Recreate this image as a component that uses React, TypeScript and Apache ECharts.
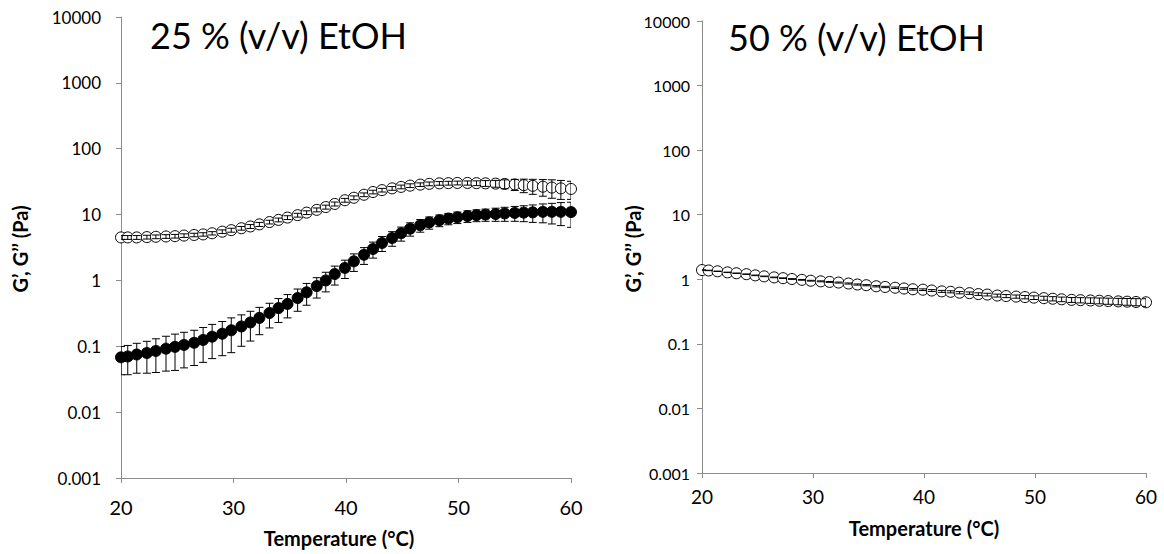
import React, { useEffect, useRef } from "react";
import * as echarts from "echarts";

const temps = [20.0, 20.6, 21.4, 22.3, 23.1, 24.0, 24.8, 25.6, 26.5, 27.3, 28.1, 29.0, 29.8, 30.7, 31.5, 32.3, 33.2, 34.0, 34.8, 35.7, 36.5, 37.4, 38.2, 39.0, 39.9, 40.7, 41.6, 42.4, 43.2, 44.1, 44.9, 45.7, 46.6, 47.4, 48.3, 49.1, 49.9, 50.8, 51.6, 52.4, 53.3, 54.1, 55.0, 55.8, 56.6, 57.5, 58.3, 59.1, 60.0];

// 25 % (v/v) EtOH
const gPrime25 = [0.068, 0.070, 0.075, 0.079, 0.085, 0.092, 0.098, 0.105, 0.113, 0.125, 0.14, 0.155, 0.175, 0.20, 0.23, 0.27, 0.32, 0.38, 0.44, 0.54, 0.66, 0.82, 1.0, 1.25, 1.55, 1.95, 2.45, 3.0, 3.7, 4.4, 5.2, 6.1, 6.9, 7.6, 8.2, 8.7, 9.1, 9.5, 9.8, 10.0, 10.2, 10.4, 10.6, 10.7, 10.8, 11.0, 11.0, 11.0, 10.9];
const gPrime25Err = [0.031, 0.033, 0.036, 0.040, 0.045, 0.050, 0.055, 0.058, 0.062, 0.068, 0.075, 0.083, 0.095, 0.10, 0.11, 0.12, 0.13, 0.15, 0.17, 0.2, 0.24, 0.28, 0.33, 0.4, 0.48, 0.58, 0.7, 0.82, 0.95, 1.1, 1.25, 1.4, 1.5, 1.6, 1.65, 1.7, 1.8, 1.9, 2.0, 2.1, 2.3, 2.5, 2.7, 2.9, 3.2, 3.5, 3.8, 4.2, 4.5];
const gDouble25 = [4.5, 4.5, 4.5, 4.55, 4.6, 4.65, 4.7, 4.8, 4.9, 5.0, 5.2, 5.5, 5.8, 6.2, 6.6, 7.1, 7.7, 8.3, 9.0, 9.8, 10.7, 11.8, 13.0, 14.5, 16.5, 18.0, 20.0, 22.0, 23.5, 25.0, 26.3, 27.5, 28.5, 29.3, 29.8, 30.0, 30.2, 30.2, 30.0, 29.8, 29.5, 29.2, 28.7, 28.0, 27.3, 26.5, 25.7, 25.0, 24.5];
const gDouble25Err = [0.3, 0.3, 0.3, 0.3, 0.3, 0.3, 0.3, 0.3, 0.3, 0.3, 0.3, 0.35, 0.4, 0.4, 0.45, 0.5, 0.5, 0.55, 0.6, 0.65, 0.7, 0.8, 0.9, 1.0, 1.1, 1.2, 1.3, 1.4, 1.5, 1.6, 1.7, 1.8, 1.8, 1.9, 1.9, 2.0, 2.0, 2.2, 2.5, 3.0, 3.5, 4.5, 5.5, 6.5, 7.0, 7.5, 8.0, 8.0, 7.5];

// 50 % (v/v) EtOH
const gDouble50 = [1.39, 1.37, 1.33, 1.28, 1.24, 1.20, 1.15, 1.11, 1.07, 1.04, 1.01, 0.98, 0.95, 0.93, 0.91, 0.89, 0.86, 0.83, 0.81, 0.78, 0.76, 0.74, 0.72, 0.70, 0.69, 0.67, 0.65, 0.64, 0.62, 0.61, 0.59, 0.58, 0.56, 0.55, 0.54, 0.53, 0.52, 0.51, 0.50, 0.49, 0.48, 0.475, 0.47, 0.465, 0.46, 0.455, 0.45, 0.445, 0.44];
const gDouble50Err = [0.01, 0.01, 0.01, 0.01, 0.01, 0.01, 0.012, 0.012, 0.012, 0.012, 0.014, 0.014, 0.014, 0.015, 0.015, 0.016, 0.016, 0.017, 0.017, 0.018, 0.018, 0.019, 0.02, 0.02, 0.021, 0.022, 0.023, 0.024, 0.025, 0.026, 0.027, 0.028, 0.029, 0.03, 0.031, 0.032, 0.034, 0.036, 0.038, 0.04, 0.042, 0.044, 0.046, 0.048, 0.05, 0.052, 0.054, 0.056, 0.06];

const xTicks = { min: 20, max: 60, interval: 10 };
const yRange = { min: 0.001, max: 10000 };
const panelTitles = ["25 % (v/v) EtOH", "50 % (v/v) EtOH"];
const yTitle = "G’, G’’ (Pa)";
const xTitle = "Temperature (°C)";

const FONT = "Lato, 'Open Sans', sans-serif";
const AXIS_COLOR = "#8c8c8c";

const fmt = (v: number) => String(Number(Number(v).toPrecision(6)));

const pairs = (ys: number[]) => temps.map((t, i) => [t, ys[i]]);
const triples = (ys: number[], es: number[]) => temps.map((t, i) => [t, ys[i], es[i]]);

const errorBarRender = (params: any, api: any) => {
  const x = api.value(0);
  const y = api.value(1);
  const e = api.value(2);
  const hi = api.coord([x, y + e]);
  const lo = api.coord([x, Math.max(y - e, 1e-5)]);
  const cap = 4;
  const st = { stroke: "#000", lineWidth: 1 };
  return {
    type: "group",
    children: [
      { type: "line", shape: { x1: hi[0], y1: hi[1], x2: lo[0], y2: lo[1] }, style: st },
      { type: "line", shape: { x1: hi[0] - cap, y1: hi[1], x2: hi[0] + cap, y2: hi[1] }, style: st },
      { type: "line", shape: { x1: lo[0] - cap, y1: lo[1], x2: lo[0] + cap, y2: lo[1] }, style: st },
    ],
  };
};

const makeX = (gridIndex: number, labelSize: number, margin: number) => ({
  type: "value",
  gridIndex,
  min: xTicks.min,
  max: xTicks.max,
  interval: xTicks.interval,
  axisLine: { lineStyle: { color: AXIS_COLOR, width: 1 } },
  axisTick: { show: true, length: 5, lineStyle: { color: AXIS_COLOR } },
  axisLabel: { color: "#000", fontSize: labelSize, fontFamily: FONT, margin },
  splitLine: { show: false },
});

const makeY = (gridIndex: number, labelSize: number, margin: number) => ({
  type: "log",
  logBase: 10,
  gridIndex,
  min: yRange.min,
  max: yRange.max,
  splitNumber: 7,
  axisLine: { show: true, lineStyle: { color: AXIS_COLOR, width: 1 } },
  axisTick: { show: true, length: 5, lineStyle: { color: AXIS_COLOR } },
  axisLabel: { color: "#000", fontSize: labelSize, fontFamily: FONT, margin, formatter: fmt },
  splitLine: { show: false },
  minorTick: { show: false },
});

export default function App() {
  const ref = useRef<HTMLDivElement>(null);
  useEffect(() => {
    if (!ref.current) return;
    const chart = echarts.init(ref.current, undefined, { renderer: "svg" });
    chart.setOption({
      animation: false,
      backgroundColor: "#fff",
      grid: [
        { left: 121, top: 17, width: 450, height: 461 },
        { left: 702, top: 21, width: 444, height: 452 },
      ],
      xAxis: [makeX(0, 20, 19), makeX(1, 19, 14)],
      yAxis: [makeY(0, 17, 20), makeY(1, 16, 12)],
      series: [
        {
          type: "scatter",
          xAxisIndex: 0,
          yAxisIndex: 0,
          data: pairs(gDouble25),
          symbol: "circle",
          symbolSize: 11,
          itemStyle: { color: "#fff", borderColor: "#000", borderWidth: 1, opacity: 1 },
          z: 2,
        },
        {
          type: "custom",
          xAxisIndex: 0,
          yAxisIndex: 0,
          data: triples(gDouble25, gDouble25Err),
          renderItem: errorBarRender,
          clip: true,
          z: 3,
        },
        {
          type: "scatter",
          xAxisIndex: 0,
          yAxisIndex: 0,
          data: pairs(gPrime25),
          symbol: "circle",
          symbolSize: 11,
          itemStyle: { color: "#000", borderColor: "#000", borderWidth: 1, opacity: 1 },
          z: 2,
        },
        {
          type: "custom",
          xAxisIndex: 0,
          yAxisIndex: 0,
          data: triples(gPrime25, gPrime25Err),
          renderItem: errorBarRender,
          clip: true,
          z: 3,
        },
        {
          type: "scatter",
          xAxisIndex: 1,
          yAxisIndex: 1,
          data: pairs(gDouble50),
          symbol: "circle",
          symbolSize: 11,
          itemStyle: { color: "#fff", borderColor: "#000", borderWidth: 1, opacity: 1 },
          z: 2,
        },
        {
          type: "custom",
          xAxisIndex: 1,
          yAxisIndex: 1,
          data: triples(gDouble50, gDouble50Err),
          renderItem: errorBarRender,
          clip: true,
          z: 3,
        },
      ],
      graphic: [
        { type: "text", x: 150, y: 35, style: { text: panelTitles[0], font: `36px ${FONT}`, fill: "#000", verticalAlign: "middle", align: "left" } },
        { type: "text", x: 728, y: 37, style: { text: panelTitles[1], font: `36px ${FONT}`, fill: "#000", verticalAlign: "middle", align: "left" } },
        { type: "text", x: 20, y: 249, rotation: Math.PI / 2, style: { text: yTitle, font: `bold 20px ${FONT}`, fill: "#000", verticalAlign: "middle", align: "center" } },
        { type: "text", x: 633, y: 249, rotation: Math.PI / 2, style: { text: yTitle, font: `bold 20px ${FONT}`, fill: "#000", verticalAlign: "middle", align: "center" } },
        { type: "text", x: 339, y: 538, style: { text: xTitle, font: `bold 20px ${FONT}`, fill: "#000", verticalAlign: "middle", align: "center" } },
        { type: "text", x: 924, y: 528, style: { text: xTitle, font: `bold 20px ${FONT}`, fill: "#000", verticalAlign: "middle", align: "center" } },
      ],
    });
    return () => chart.dispose();
  }, []);
  return <div ref={ref} style={{ position: "absolute", left: 0, top: 0, width: 1164, height: 554 }} />;
}
